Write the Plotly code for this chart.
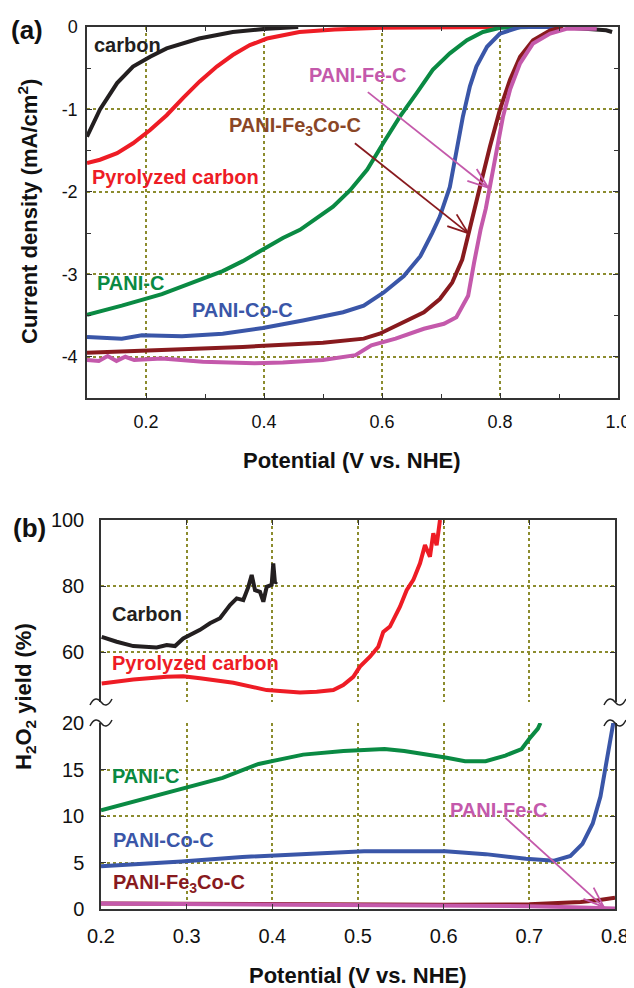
import math
import plotly.graph_objects as go

# page is 634x988; the html body has an 8px margin, so the figure is placed at (8, 8)
PAGE_W, PAGE_H = 634, 988
OFF = 8
W, H = PAGE_W - OFF, PAGE_H - OFF

# ---------------- data: panel (a) ----------------
a_carbon_v = [0.10, 0.122, 0.151, 0.178, 0.207, 0.235, 0.29, 0.347, 0.405, 0.458, None, 0.92, 0.95, 0.98, 0.99]
a_carbon_j = [-1.33, -1.0, -0.68, -0.48, -0.36, -0.26, -0.14, -0.06, -0.02, 0.0, None, -0.01, -0.02, -0.04, -0.06]

a_pyro_v = [0.10, 0.122, 0.151, 0.178, 0.207, 0.235, 0.263, 0.291, 0.32, 0.347, 0.376, 0.405, 0.46, 0.52, 0.60, 0.70, 0.80, 0.90]
a_pyro_j = [-1.65, -1.61, -1.53, -1.41, -1.25, -1.07, -0.86, -0.66, -0.48, -0.34, -0.22, -0.14, -0.06, -0.03, -0.01, 0.0, 0.0, 0.0]

a_panic_v = [0.10, 0.159, 0.227, 0.296, 0.33, 0.364, 0.398, 0.432, 0.461, 0.517, 0.546, 0.575, 0.602, 0.63, 0.659, 0.686, 0.715, 0.744, 0.771, 0.80, 0.85, 0.90]
a_panic_j = [-3.49, -3.38, -3.24, -3.06, -2.96, -2.84, -2.70, -2.56, -2.46, -2.18, -1.98, -1.73, -1.41, -1.09, -0.80, -0.52, -0.32, -0.16, -0.06, -0.01, 0.0, 0.0]

a_co_v = [0.10, 0.159, 0.193, 0.261, 0.33, 0.398, 0.466, 0.534, 0.569, 0.603, 0.637, 0.665, 0.685, 0.698, 0.715, 0.727, 0.737, 0.749, 0.76, 0.778, 0.80, 0.834, 0.90]
a_co_j = [-3.76, -3.78, -3.74, -3.75, -3.72, -3.65, -3.56, -3.46, -3.38, -3.22, -3.02, -2.78, -2.50, -2.30, -1.94, -1.49, -1.09, -0.72, -0.48, -0.24, -0.08, 0.0, 0.0]

a_fe3co_v = [0.10, 0.227, 0.364, 0.50, 0.569, 0.596, 0.637, 0.671, 0.698, 0.719, 0.736, 0.746, 0.753, 0.766, 0.783, 0.80, 0.817, 0.834, 0.856, 0.885, 0.907]
a_fe3co_j = [-3.95, -3.92, -3.88, -3.83, -3.78, -3.72, -3.58, -3.46, -3.30, -3.10, -2.82, -2.54, -2.35, -1.94, -1.45, -1.0, -0.64, -0.36, -0.16, -0.04, 0.0]

a_fe_v = [0.10, 0.12, 0.135, 0.15, 0.165, 0.18, 0.227, 0.296, 0.384, 0.432, 0.50, 0.555, 0.582, 0.623, 0.671, 0.705, 0.726, 0.746, 0.756, 0.767, 0.776, 0.783, 0.795, 0.805, 0.817, 0.834, 0.856, 0.885, 0.914, 0.964]
a_fe_j = [-4.04, -4.05, -3.99, -4.05, -4.0, -4.04, -4.02, -4.06, -4.08, -4.07, -4.04, -3.98, -3.86, -3.78, -3.66, -3.60, -3.52, -3.26, -2.86, -2.46, -2.20, -1.94, -1.49, -1.09, -0.76, -0.44, -0.20, -0.08, -0.02, -0.02]

# ---------------- data: panel (b) ----------------
b_carbon_v = [0.2008, 0.2183, 0.2377, 0.2494, 0.265, 0.2767, 0.2864, 0.296, 0.3156, 0.3272, 0.3389, 0.3506, 0.3584, 0.3661, 0.372, 0.3759, 0.3798, 0.3856, 0.3895, 0.3934, 0.3992, 0.4011, 0.4031, 0.405]
b_carbon_y = [64.7, 63.2, 61.9, 61.7, 61.5, 62.2, 61.9, 64.2, 66.8, 68.8, 70.3, 74.3, 76.3, 75.8, 79.8, 83.4, 78.8, 78.3, 75.3, 79.8, 80.4, 86.9, 80.9, 81.4]

b_pyro_v = [0.2008, 0.2377, 0.2767, 0.296, 0.3156, 0.3545, 0.3934, 0.4323, 0.4518, 0.4712, 0.4828, 0.4945, 0.5023, 0.514, 0.5237, 0.5295, 0.5373, 0.5432, 0.549, 0.5568, 0.5646, 0.5724, 0.5782, 0.584, 0.5879, 0.5918, 0.5957]
b_pyro_y = [50.6, 51.8, 52.6, 52.8, 52.2, 50.8, 48.6, 47.9, 48.1, 48.6, 50.1, 52.6, 55.7, 58.7, 61.7, 66.2, 67.8, 70.8, 73.8, 78.8, 81.9, 86.9, 92.4, 88.9, 96.0, 92.4, 100.0]

b_panic_v = [0.2, 0.224, 0.271, 0.304, 0.342, 0.384, 0.413, 0.436, 0.483, 0.531, 0.554, 0.578, 0.602, 0.625, 0.649, 0.672, 0.691, 0.70, 0.71, 0.713]
b_panic_y = [10.6, 11.2, 12.3, 13.2, 14.1, 15.6, 16.1, 16.6, 17.0, 17.2, 17.0, 16.7, 16.3, 15.9, 15.9, 16.5, 17.2, 18.3, 19.4, 20.0]

b_co_v = [0.2, 0.247, 0.294, 0.365, 0.436, 0.507, 0.554, 0.602, 0.649, 0.696, 0.729, 0.748, 0.762, 0.774, 0.783, 0.79, 0.796, 0.798]
b_co_y = [4.6, 4.8, 5.1, 5.6, 5.9, 6.2, 6.2, 6.2, 5.9, 5.4, 5.2, 5.7, 7.0, 9.2, 12.1, 15.8, 19.4, 20.0]

b_fe3co_v = [0.2, 0.3, 0.4, 0.5, 0.6, 0.7, 0.74, 0.76, 0.78, 0.8]
b_fe3co_y = [0.6, 0.55, 0.5, 0.45, 0.45, 0.5, 0.6, 0.75, 0.95, 1.2]

b_fe_v = [0.2, 0.3, 0.4, 0.5, 0.6, 0.7, 0.75, 0.8]
b_fe_y = [0.6, 0.55, 0.5, 0.45, 0.4, 0.3, 0.2, 0.05]

# tick labels
a_xticks = [0.2, 0.4, 0.6, 0.8, 1.0]
a_xlabels = ["0.2", "0.4", "0.6", "0.8", "1.0"]
a_yticks = [0, -1, -2, -3, -4]
a_ylabels = ["0", "-1", "-2", "-3", "-4"]
b_xticks = [0.2, 0.3, 0.4, 0.5, 0.6, 0.7, 0.8]
b_xlabels = ["0.2", "0.3", "0.4", "0.5", "0.6", "0.7", "0.8"]
bt_yticks = [60, 80, 100]
bt_ylabels = ["60", "80", "100"]
bb_yticks = [0, 5, 10, 15, 20]
bb_ylabels = ["0", "5", "10", "15", "20"]

# ---------------- colours / styles ----------------
C_BLACK = "#231f20"
C_RED = "#ee1c25"
C_GREEN = "#0a8a43"
C_BLUE = "#3a56a8"
C_MAROON = "#881a1e"
C_PINK = "#c459ab"
C_BROWN = "#8a4626"
GRID = "#8c8c2e"
AXC = "#333333"

NARROW = "Liberation Sans Narrow, Arial Narrow, Liberation Sans, Arial"
TICKFONT = dict(family=NARROW, size=18, color="#111")
TICKFONT_B = dict(family=NARROW, size=20, color="#111")
LBL = "Liberation Sans, Arial, sans-serif"

# frames in page pixels
A_X = (87, 618); A_Y = (27, 398)
B_X = (101, 615); BT_Y = (520, 702); BB_Y = (723, 909)
A_XR = [0.1, 1.0]; A_YR = [-4.5, 0]
B_XR = [0.2, 0.8]; BT_YR = [45, 100]; BB_YR = [0, 20]


def fx(px):
    return (px - OFF) / W


def fy(py):
    return 1 - (py - OFF) / H


def xdom(p):
    return [fx(p[0]), fx(p[1])]


def ydom(p):
    return [fy(p[1]), fy(p[0])]


fig = go.Figure()


def add(x, y, color, xa, ya, width=4):
    fig.add_trace(go.Scatter(x=x, y=y, mode="lines", xaxis=xa, yaxis=ya,
                             line=dict(color=color, width=width), showlegend=False,
                             hoverinfo="skip", connectgaps=False))


# panel (a)
add(a_carbon_v, a_carbon_j, C_BLACK, "x", "y")
add(a_pyro_v, a_pyro_j, C_RED, "x", "y")
add(a_panic_v, a_panic_j, C_GREEN, "x", "y")
add(a_co_v, a_co_j, C_BLUE, "x", "y")
add(a_fe3co_v, a_fe3co_j, C_MAROON, "x", "y")
add(a_fe_v, a_fe_j, C_PINK, "x", "y")

# panel (b) top section (x3/y3)
add(b_carbon_v, b_carbon_y, C_BLACK, "x3", "y3", 4)
add(b_pyro_v, b_pyro_y, C_RED, "x3", "y3", 4)
# panel (b) bottom section (x2/y2)
add(b_panic_v, b_panic_y, C_GREEN, "x2", "y2", 4)
add(b_co_v, b_co_y, C_BLUE, "x2", "y2", 4)
add(b_fe3co_v, b_fe3co_y, C_MAROON, "x2", "y2", 4)
add(b_fe_v, b_fe_y, C_PINK, "x2", "y2", 4)

common = dict(showline=True, linecolor=AXC, linewidth=1.5, ticks="inside", ticklen=5,
              tickcolor=AXC, tickwidth=1, showgrid=True, gridcolor=GRID, griddash="dot",
              gridwidth=1.5, zeroline=False, tickmode="array", automargin=False)

fig.update_layout(
    template="none",
    width=W, height=H, margin=dict(l=0, r=0, t=0, b=0, pad=0, autoexpand=False),
    paper_bgcolor="white", plot_bgcolor="white", showlegend=False,
    xaxis=dict(domain=xdom(A_X), range=A_XR, anchor="y", tickvals=a_xticks, ticktext=a_xlabels,
               mirror="ticks", tickfont=TICKFONT, ticklabelstandoff=7,
               minor=dict(tickvals=[0.1, 0.3, 0.5, 0.7, 0.9], ticks="inside", ticklen=4,
                          tickcolor=AXC, showgrid=False), **common),
    yaxis=dict(domain=ydom(A_Y), range=A_YR, anchor="x", tickvals=a_yticks, ticktext=a_ylabels,
               mirror="ticks", tickfont=TICKFONT, ticklabelstandoff=4,
               minor=dict(tickvals=[-0.5, -1.5, -2.5, -3.5], ticks="inside", ticklen=4,
                          tickcolor=AXC, showgrid=False), **common),
    xaxis2=dict(domain=xdom(B_X), range=B_XR, anchor="y2", tickvals=b_xticks, ticktext=b_xlabels,
                mirror=False, tickfont=TICKFONT_B, ticklabelstandoff=8, **common),
    yaxis2=dict(domain=ydom(BB_Y), range=BB_YR, anchor="x2", tickvals=bb_yticks, ticktext=bb_ylabels,
                mirror="ticks", tickfont=TICKFONT_B, ticklabelstandoff=11, **common),
    xaxis3=dict(domain=xdom(B_X), range=B_XR, anchor="y3", side="top", matches="x2",
                tickvals=b_xticks, ticktext=b_xlabels, showticklabels=False, mirror=False, **common),
    yaxis3=dict(domain=ydom(BT_Y), range=BT_YR, anchor="x3", tickvals=bt_yticks, ticktext=bt_ylabels,
                mirror="ticks", tickfont=TICKFONT_B, ticklabelstandoff=11, **common),
)


# ---------------- helpers ----------------
def to_px(v, y, xr, yr, xp, yp):
    px = xp[0] + (v - xr[0]) / (xr[1] - xr[0]) * (xp[1] - xp[0])
    py = yp[1] - (y - yr[0]) / (yr[1] - yr[0]) * (yp[1] - yp[0])
    return px, py


def to_data(px, py, xr, yr, xp, yp):
    v = xr[0] + (px - xp[0]) / (xp[1] - xp[0]) * (xr[1] - xr[0])
    y = yr[0] + (yp[1] - py) / (yp[1] - yp[0]) * (yr[1] - yr[0])
    return v, y


shapes = []


def arrow(v0, y0, v1, y1, color, xref, yref, xr, yr, xp, yp, L=22, ang=20):
    shapes.append(dict(type="line", xref=xref, yref=yref, x0=v0, y0=y0, x1=v1, y1=y1,
                       line=dict(color=color, width=1.8)))
    p0 = to_px(v0, y0, xr, yr, xp, yp)
    p1 = to_px(v1, y1, xr, yr, xp, yp)
    dx, dy = p0[0] - p1[0], p0[1] - p1[1]
    n = math.hypot(dx, dy)
    ux, uy = dx / n, dy / n
    for s in (1, -1):
        a = math.radians(ang * s)
        rx = ux * math.cos(a) - uy * math.sin(a)
        ry = ux * math.sin(a) + uy * math.cos(a)
        hv, hy = to_data(p1[0] + L * rx, p1[1] + L * ry, xr, yr, xp, yp)
        shapes.append(dict(type="line", xref=xref, yref=yref, x0=v1, y0=y1, x1=hv, y1=hy,
                           line=dict(color=color, width=1.8)))


def pf(px, py):
    return f"{fx(px):.5f},{fy(py):.5f}"


def tilde(x, y):
    path = (f"M {pf(x - 11, y + 3)} C {pf(x - 7, y - 5)} {pf(x - 3, y - 4)} {pf(x, y)} "
            f"S {pf(x + 7, y + 5)} {pf(x + 11, y - 3)}")
    shapes.append(dict(type="path", xref="paper", yref="paper", path=path,
                       line=dict(color="#222", width=1.5)))


# arrows panel (a)
arrow(0.576, -0.79, 0.780, -1.95, C_PINK, "x", "y", A_XR, A_YR, A_X, A_Y)
arrow(0.554, -1.41, 0.746, -2.50, C_MAROON, "x", "y", A_XR, A_YR, A_X, A_Y)
# arrow panel (b)
arrow(0.672, 9.8, 0.787, 0.2, C_PINK, "x2", "y2", B_XR, BB_YR, B_X, BB_Y)

# axis break marks
for xb in (B_X[0], B_X[1]):
    tilde(xb, BT_Y[1])
    tilde(xb, BB_Y[0])

fig.update_layout(shapes=shapes)

ann = []


def label(text, x, y, color, xref, yref, size=20):
    ann.append(dict(text=f"<b>{text}</b>", x=x, y=y, xref=xref, yref=yref, xanchor="left",
                    yanchor="middle", showarrow=False, font=dict(family=LBL, size=size, color=color)))


# panel (a) labels
label("carbon", 0.108, -0.22, C_BLACK, "x", "y")
label("Pyrolyzed carbon", 0.105, -1.82, C_RED, "x", "y")
label("PANI-Fe<sub>3</sub>Co-C", 0.337, -1.21, C_BROWN, "x", "y")
label("PANI-Fe-C", 0.473, -0.58, C_PINK, "x", "y")
label("PANI-C", 0.114, -3.11, C_GREEN, "x", "y")
label("PANI-Co-C", 0.275, -3.43, C_BLUE, "x", "y")
# panel (b) labels
label("Carbon", 0.2105, 71.6, C_BLACK, "x3", "y3")
label("Pyrolyzed carbon", 0.2105, 56.8, C_RED, "x3", "y3")
label("PANI-C", 0.2105, 14.3, C_GREEN, "x2", "y2")
label("PANI-Co-C", 0.212, 7.4, C_BLUE, "x2", "y2")
label("PANI-Fe<sub>3</sub>Co-C", 0.212, 2.7, C_MAROON, "x2", "y2")
label("PANI-Fe-C", 0.605, 10.6, C_PINK, "x2", "y2")


def ptext(text, px, py, size=22, angle=0):
    ann.append(dict(text=f"<b>{text}</b>", x=fx(px), y=fy(py), xref="paper", yref="paper",
                    xanchor="center", yanchor="middle", showarrow=False, textangle=angle,
                    font=dict(family=LBL, size=size, color="#111")))


ptext("(a)", 27, 30, 26)
ptext("(b)", 29, 528, 26)
ptext("Potential (V vs. NHE)", 352, 460, 22)
ptext("Potential (V vs. NHE)", 358, 975, 22)
ptext("Current density (mA/cm<sup>2</sup>)", 28, 212, 22, -90)
ptext("H<sub>2</sub>O<sub>2</sub> yield (%)", 25, 697, 22, -90)

fig.update_layout(annotations=ann)

fig.write_html("out.html")
